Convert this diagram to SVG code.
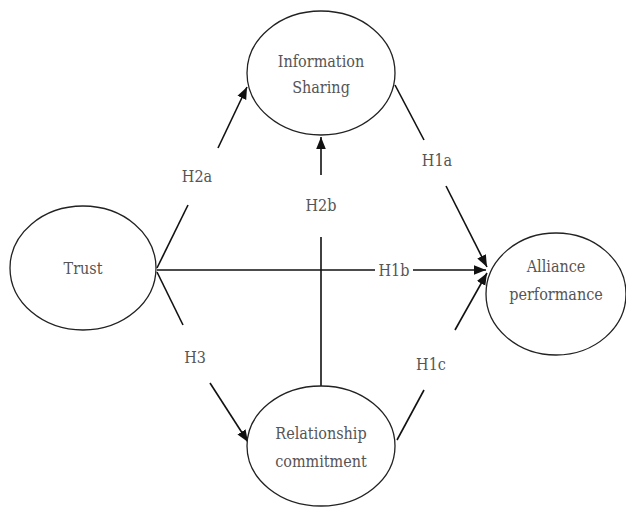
<svg xmlns="http://www.w3.org/2000/svg" width="626" height="508" viewBox="0 0 626 508">
<style>
.node ellipse{fill:#fff;stroke:#222;stroke-width:1.3}
text{font-family:'DejaVu Serif Condensed','DejaVu Serif','Liberation Serif',serif;font-stretch:condensed;font-size:16px;fill:#555;text-anchor:middle}
.conn line{stroke:#111;stroke-width:1.6}
</style>
<defs>
<marker id="ah" viewBox="0 0 10 10" refX="10" refY="5" markerWidth="12" markerHeight="12" markerUnits="userSpaceOnUse" orient="auto">
<path d="M0,1 L10,5 L0,9 Z" fill="#111"/>
</marker>
</defs>
<rect width="626" height="508" fill="#fff"/>
<g class="conn">
<line x1="157" y1="268" x2="188" y2="205"/>
<line x1="218" y1="148" x2="247" y2="87" marker-end="url(#ah)"/>
<line x1="321" y1="175" x2="321" y2="137" marker-end="url(#ah)"/>
<line x1="321" y1="237" x2="321" y2="387"/>
<line x1="157" y1="270" x2="375" y2="270"/>
<line x1="413" y1="270" x2="486" y2="270" marker-end="url(#ah)"/>
<line x1="395" y1="85" x2="424" y2="140"/>
<line x1="446" y1="186" x2="487" y2="267" marker-end="url(#ah)"/>
<line x1="397" y1="440" x2="424" y2="390"/>
<line x1="455" y1="330" x2="487" y2="273" marker-end="url(#ah)"/>
<line x1="157" y1="272" x2="183" y2="325"/>
<line x1="210" y1="383" x2="248" y2="442" marker-end="url(#ah)"/>
<text x="197" y="182">H2a</text>
<text x="321" y="211">H2b</text>
<text x="394" y="276">H1b</text>
<text x="437" y="166">H1a</text>
<text x="195" y="363">H3</text>
<text x="431" y="370">H1c</text>
</g>
<g id="info" class="node">
<ellipse cx="321" cy="73" rx="74" ry="62"/>
<text x="321" y="67">Information</text>
<text x="321" y="93">Sharing</text>
</g>
<g id="trust" class="node">
<ellipse cx="83" cy="268" rx="73" ry="62"/>
<text x="83" y="274">Trust</text>
</g>
<g id="alliance" class="node">
<ellipse cx="556" cy="294" rx="70" ry="61"/>
<text x="556" y="272">Alliance</text>
<text x="556" y="300">performance</text>
</g>
<g id="relationship" class="node">
<ellipse cx="321" cy="446" rx="74" ry="60"/>
<text x="321" y="439">Relationship</text>
<text x="321" y="467">commitment</text>
</g>
</svg>
